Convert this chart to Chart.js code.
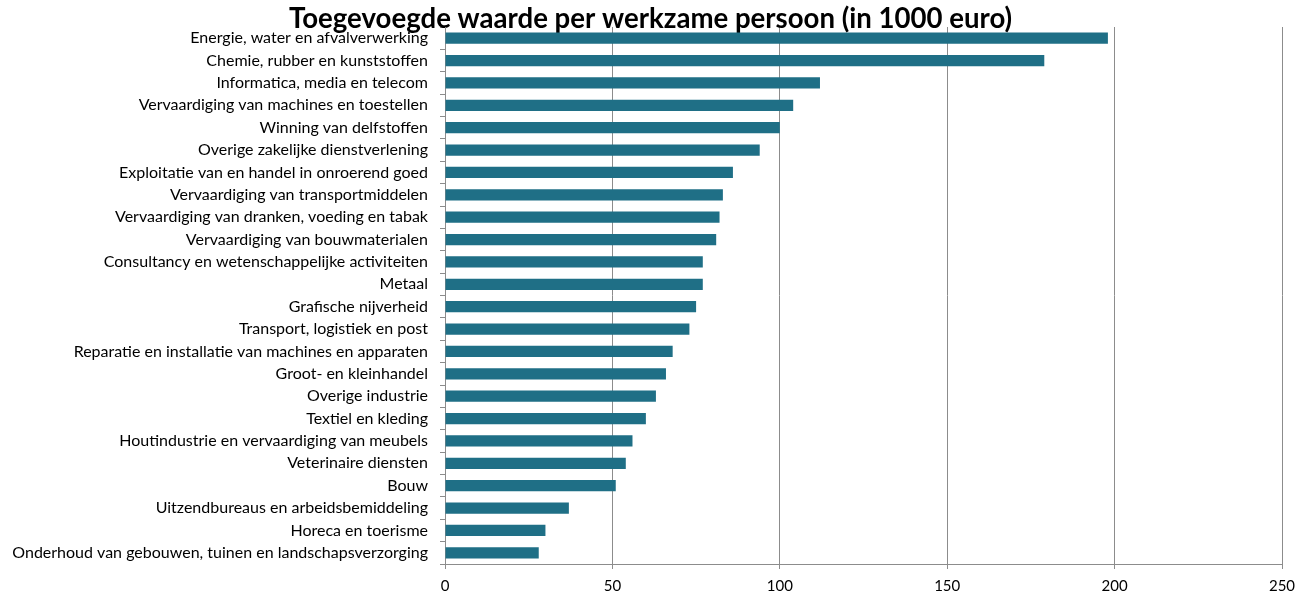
<!DOCTYPE html>
<html>
<head>
<meta charset="utf-8">
<script src="https://cdn.jsdelivr.net/npm/chart.js@4"></script>
<style>
  html, body { margin: 0; padding: 0; background: #fff; }
  #wrap { width: 1301px; height: 595px; position: relative; }
</style>
</head>
<body>
<div id="wrap"><canvas id="myChart"></canvas></div>
<script>
// Gegevens uit de grafiek
const sectoren = [
  'Energie, water en afvalverwerking',
  'Chemie, rubber en kunststoffen',
  'Informatica, media en telecom',
  'Vervaardiging van machines en toestellen',
  'Winning van delfstoffen',
  'Overige zakelijke dienstverlening',
  'Exploitatie van en handel in onroerend goed',
  'Vervaardiging van transportmiddelen',
  'Vervaardiging van dranken, voeding en tabak',
  'Vervaardiging van bouwmaterialen',
  'Consultancy en wetenschappelijke activiteiten',
  'Metaal',
  'Grafische nijverheid',
  'Transport, logistiek en post',
  'Reparatie en installatie van machines en apparaten',
  'Groot- en kleinhandel',
  'Overige industrie',
  'Textiel en kleding',
  'Houtindustrie en vervaardiging van meubels',
  'Veterinaire diensten',
  'Bouw',
  'Uitzendbureaus en arbeidsbemiddeling',
  'Horeca en toerisme',
  'Onderhoud van gebouwen, tuinen en landschapsverzorging'
]
const waarden = [198, 179, 112, 104, 100, 94, 86, 83, 82, 81, 77, 77, 75, 73, 68, 66, 63, 60, 56, 54, 51, 37, 30, 28]
const asMin = 0
const asMax = 250
const asStap = 50

const titel = 'Toegevoegde waarde per werkzame persoon (in 1000 euro)'
const lettertype = 'Lato, "DejaVu Sans", sans-serif'
const grijs = '#8c8c8c'

const ctx = document.getElementById('myChart')

const data = {
  labels: sectoren,
  datasets: [{
    data: waarden,
    backgroundColor: '#1f6f86',
    borderWidth: 0,
    barPercentage: 0.5,
    categoryPercentage: 1
  }]
}

new Chart(ctx, {
  type: 'bar',
  data,
  options: {
    indexAxis: 'y',
    responsive: true,
    maintainAspectRatio: false,
    animation: false,
    layout: { padding: { left: 0, right: 0, top: 0, bottom: 0 } },
    plugins: {
      legend: { display: false },
      tooltip: { enabled: false },
      title: {
        display: true,
        text: titel,
        color: '#000',
        font: { family: lettertype, size: 27.6, weight: 'bold', lineHeight: 1 },
        padding: { top: 5, bottom: -5.6 }
      }
    },
    scales: {
      x: {
        min: asMin,
        max: asMax,
        ticks: {
          stepSize: asStap,
          color: '#000',
          padding: 8,
          font: { family: lettertype, size: 15 }
        },
        grid: { color: grijs, tickLength: 5, lineWidth: 1 },
        border: { color: grijs },
        afterFit: scale => {
          scale.height = 31
          scale.paddingRight = 19
        }
      },
      y: {
        ticks: {
          color: '#000',
          padding: 12,
          autoSkip: false,
          font: { family: lettertype, size: 16 }
        },
        grid: { offset: true, drawOnChartArea: false, color: grijs, tickLength: 5 },
        border: { color: grijs },
        afterFit: scale => { scale.width = 445 }
      }
    }
  }
})
</script>
</body>
</html>
